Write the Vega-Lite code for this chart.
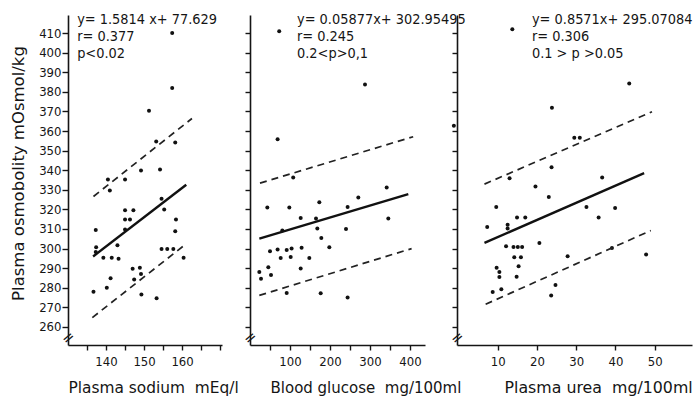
{
  "$schema": "https://vega.github.io/schema/vega-lite/v6.json",
  "background": "white",
  "padding": {"left": 10, "top": 11, "right": 0, "bottom": 0},
  "bounds": "flush",
  "spacing": 28,
  "config": {
    "view": {"stroke": null},
    "axis": {
      "grid": false,
      "domainColor": "#151515",
      "domainWidth": 1.6,
      "tickColor": "#151515",
      "tickWidth": 1.4,
      "labelFont": "DejaVu Sans Condensed, Liberation Sans Narrow, DejaVu Sans",
      "labelFontSize": 13,
      "labelColor": "#151515",
      "titleFont": "DejaVu Sans",
      "titleFontWeight": "normal",
      "titleColor": "#151515"
    },
    "text": {"font": "DejaVu Sans Condensed, Liberation Sans Narrow, DejaVu Sans", "fontSize": 14.4, "color": "#151515", "align": "left", "baseline": "middle"}
  },
  "datasets": {
    "sodium_pts": [
      {"x":157.4,"y":410},{"x":157.4,"y":382},{"x":151.3,"y":370.3},{"x":153.2,"y":354.6},{"x":158.2,"y":354.1},
      {"x":149.2,"y":339.8},{"x":154.2,"y":340.4},{"x":140.5,"y":335.3},{"x":145,"y":335.3},{"x":141,"y":329.7},
      {"x":145,"y":319.5},{"x":147.2,"y":319.5},{"x":145,"y":314.8},{"x":146.3,"y":314.8},{"x":145,"y":309.7},
      {"x":154.6,"y":325.4},{"x":155.3,"y":319.9},{"x":158.4,"y":314.8},{"x":158.2,"y":308.8},{"x":137.3,"y":309.5},
      {"x":137.4,"y":300.7},{"x":137.3,"y":298.3},{"x":139.3,"y":295.3},{"x":141.5,"y":295.3},{"x":143,"y":301.7},
      {"x":143.3,"y":294.8},{"x":154.6,"y":299.8},{"x":156.1,"y":299.8},{"x":157.7,"y":299.8},{"x":160.4,"y":295.3},
      {"x":147,"y":289.7},{"x":148.9,"y":290.2},{"x":147.4,"y":284.2},{"x":149.2,"y":287},{"x":141.2,"y":284.8},
      {"x":140.2,"y":280},{"x":136.7,"y":278},{"x":149.3,"y":276.6},{"x":153.3,"y":274.6}
    ],
    "sodium_lines": [
      {"kind":"fit","x":136.6,"y":296},{"kind":"fit","x":161.1,"y":332.6},
      {"kind":"upper","x":136.7,"y":326.6},{"kind":"upper","x":162.6,"y":366.4},
      {"kind":"lower","x":136.4,"y":264.8},{"kind":"lower","x":160.8,"y":302}
    ],
    "sodium_text": [
      {"x":132.4,"y":416.9,"label":"y= 1.5814 x+ 77.629"},
      {"x":132.4,"y":408,"label":"r= 0.377"},
      {"x":132.4,"y":399.3,"label":"p<0.02"}
    ],
    "sodium_break": [{"x":130,"y":254.6,"label":"="}],
    "glucose_pts": [
      {"x":73,"y":410.9},{"x":287.5,"y":383.7},{"x":69,"y":355.8},{"x":108,"y":336.3},{"x":341.7,"y":331.2},
      {"x":270.8,"y":326.1},{"x":43.3,"y":321},{"x":98.3,"y":321},{"x":173.3,"y":323.6},{"x":244,"y":321.2},
      {"x":126.7,"y":315.6},{"x":165,"y":315.3},{"x":345.8,"y":315.3},{"x":168.3,"y":310.2},{"x":240,"y":310},
      {"x":80.8,"y":309.2},{"x":178.3,"y":305.4},{"x":50,"y":298.7},{"x":69,"y":299.5},{"x":91.7,"y":299.3},
      {"x":104,"y":300},{"x":129,"y":300.4},{"x":198.3,"y":300.7},{"x":76.7,"y":295.2},{"x":101.7,"y":295.7},
      {"x":148.3,"y":295.2},{"x":45.8,"y":290.5},{"x":126.7,"y":289.9},{"x":23.3,"y":288},{"x":52.5,"y":286.5},
      {"x":27.5,"y":284.6},{"x":91.7,"y":277.3},{"x":176.7,"y":277.2},{"x":244,"y":275.1}
    ],
    "glucose_lines": [
      {"kind":"fit","x":23.3,"y":305.1},{"kind":"fit","x":395.8,"y":327.8},
      {"kind":"upper","x":25,"y":333.4},{"kind":"upper","x":408,"y":357.1},
      {"kind":"lower","x":23.3,"y":276.1},{"kind":"lower","x":404,"y":300}
    ],
    "glucose_text": [
      {"x":117.5,"y":416.9,"label":"y= 0.05877x+ 302.95495"},
      {"x":117.5,"y":408,"label":"r= 0.245"},
      {"x":117.5,"y":399.3,"label":"0.2<p>0,1"}
    ],
    "glucose_break": [{"x":0,"y":254.6,"label":"="}],
    "urea_pts": [
      {"x":13.7,"y":411.9},{"x":43.5,"y":384.2},{"x":23.8,"y":371.9},{"x":29.5,"y":356.6},{"x":30.9,"y":356.6},
      {"x":23.7,"y":341.5},{"x":13,"y":335.9},{"x":36.6,"y":336.3},{"x":19.6,"y":331.7},{"x":23,"y":326.3},
      {"x":9.6,"y":321.2},{"x":32.6,"y":321.2},{"x":39.9,"y":320.7},{"x":14.9,"y":315.9},{"x":17,"y":315.9},
      {"x":35.7,"y":315.9},{"x":7.3,"y":311},{"x":12.5,"y":312.2},{"x":12.5,"y":310.2},{"x":12.1,"y":301.2},
      {"x":14,"y":300.8},{"x":15.1,"y":300.8},{"x":16.2,"y":300.8},{"x":20.6,"y":302.9},{"x":14.2,"y":295.6},
      {"x":15.9,"y":295.6},{"x":27.8,"y":296.1},{"x":39.1,"y":300.3},{"x":47.8,"y":297},{"x":9.7,"y":290.2},
      {"x":10.4,"y":288.1},{"x":15.3,"y":291},{"x":10.4,"y":285.5},{"x":14.8,"y":285.6},{"x":8.7,"y":277.8},
      {"x":10.9,"y":279.2},{"x":24.7,"y":281.4},{"x":23.6,"y":276.1},{"x":-1.2,"y":362.7}
    ],
    "urea_lines": [
      {"kind":"fit","x":6.6,"y":302.9},{"kind":"fit","x":47.3,"y":338.5},
      {"kind":"upper","x":6.6,"y":332.9},{"kind":"upper","x":49.3,"y":369.8},
      {"kind":"lower","x":6.9,"y":271.6},{"kind":"lower","x":49,"y":309.2}
    ],
    "urea_text": [
      {"x":18.7,"y":416.9,"label":"y= 0.8571x+ 295.07084"},
      {"x":18.7,"y":408,"label":"r= 0.306"},
      {"x":18.7,"y":399.3,"label":"0.1 > p >0.05"}
    ],
    "urea_break": [{"x":-0.4,"y":254.6,"label":"="}]
  },
  "hconcat": [
    {
      "width": 154,
      "height": 330,
      "encoding": {
        "x": {"field": "x", "type": "quantitative",
          "scale": {"domain": [130, 170.5], "nice": false, "zero": false},
          "axis": {"values": [135,140,145,150,155,160,165,170], "labelExpr": "(datum.value==140||datum.value==150||datum.value==160) ? datum.label : ''",
            "tickSize": 5, "labelPadding": 5, "title": "Plasma sodium\u00a0 mEq/l", "titleFontSize": 15.4,
            "titleAnchor": null, "titleAlign": "left", "titleBaseline": "middle", "titleX": 0, "titleY": 42}},
        "y": {"field": "y", "type": "quantitative",
          "scale": {"domain": [250.8, 419.2], "nice": false, "zero": false},
          "axis": {"values": [260,270,280,290,300,310,320,330,340,350,360,370,380,390,400,410],
            "tickSize": 6, "labelPadding": 1, "title": "Plasma osmobolity mOsmol/kg", "titleFontSize": 16.5,
            "titleAnchor": null, "titleAlign": "center", "titleBaseline": "middle", "titleAngle": -90, "titleX": -50, "titleY": 158}}
      },
      "layer": [
        {"data": {"name": "sodium_pts"}, "mark": {"type": "point", "filled": true, "size": 16, "color": "#111", "opacity": 1}},
        {"data": {"name": "sodium_lines"}, "transform": [{"filter": "datum.kind == 'fit'"}], "mark": {"type": "line", "color": "#111", "strokeWidth": 2.4}, "encoding": {}},
        {"data": {"name": "sodium_lines"}, "transform": [{"filter": "datum.kind != 'fit'"}], "mark": {"type": "line", "color": "#222", "strokeWidth": 1.7, "strokeDash": [7, 5]}, "encoding": {"detail": {"field": "kind"}}},
        {"data": {"name": "sodium_text"}, "mark": {"type": "text"}, "encoding": {"text": {"field": "label"}}},
        {"data": {"name": "sodium_break"}, "mark": {"type": "text", "align": "center", "angle": -40, "fontSize": 15, "font": "DejaVu Sans"}, "encoding": {"text": {"field": "label"}}}
      ]
    },
    {
      "bounds": "flush",
      "spacing": 32,
      "hconcat": [
        {
          "width": 175,
          "height": 330,
          "encoding": {
            "x": {"field": "x", "type": "quantitative",
              "scale": {"domain": [0, 437.5], "nice": false, "zero": false},
              "axis": {"values": [50,100,150,200,250,300,350,400], "labelExpr": "(datum.value % 100 == 0) ? datum.label : ''",
                "tickSize": 5, "labelPadding": 5, "title": "Blood glucose\u00a0 mg/100ml", "titleFontSize": 15,
                "titleAnchor": null, "titleAlign": "left", "titleBaseline": "middle", "titleX": 20, "titleY": 42}},
            "y": {"field": "y", "type": "quantitative",
              "scale": {"domain": [250.8, 419.2], "nice": false, "zero": false},
              "axis": {"values": [260,270,280,290,300,310,320,330,340,350,360,370,380,390,400,410],
                "tickSize": 5, "labels": false, "title": null}}
          },
          "layer": [
            {"data": {"name": "glucose_pts"}, "mark": {"type": "point", "filled": true, "size": 16, "color": "#111", "opacity": 1}},
            {"data": {"name": "glucose_lines"}, "transform": [{"filter": "datum.kind == 'fit'"}], "mark": {"type": "line", "color": "#111", "strokeWidth": 2.4}, "encoding": {}},
            {"data": {"name": "glucose_lines"}, "transform": [{"filter": "datum.kind != 'fit'"}], "mark": {"type": "line", "color": "#222", "strokeWidth": 1.7, "strokeDash": [7, 5]}, "encoding": {"detail": {"field": "kind"}}},
            {"data": {"name": "glucose_text"}, "mark": {"type": "text"}, "encoding": {"text": {"field": "label"}}},
            {"data": {"name": "glucose_break"}, "mark": {"type": "text", "align": "center", "angle": -40, "fontSize": 15, "font": "DejaVu Sans"}, "encoding": {"text": {"field": "label"}}}
          ]
        },
        {
          "width": 235,
          "height": 330,
          "encoding": {
            "x": {"field": "x", "type": "quantitative",
              "scale": {"domain": [-0.4, 59.5], "nice": false, "zero": false},
              "axis": {"values": [10,20,30,40,50],
                "tickSize": 5, "labelPadding": 5, "title": "Plasma urea\u00a0 mg/100ml", "titleFontSize": 15.8,
                "titleAnchor": null, "titleAlign": "left", "titleBaseline": "middle", "titleX": 47, "titleY": 42}},
            "y": {"field": "y", "type": "quantitative",
              "scale": {"domain": [250.8, 419.2], "nice": false, "zero": false},
              "axis": {"values": [260,270,280,290,300,310,320,330,340,350,360,370,380,390,400,410],
                "tickSize": 5, "labels": false, "title": null}}
          },
          "layer": [
            {"data": {"name": "urea_pts"}, "mark": {"type": "point", "filled": true, "size": 16, "color": "#111", "opacity": 1}},
            {"data": {"name": "urea_lines"}, "transform": [{"filter": "datum.kind == 'fit'"}], "mark": {"type": "line", "color": "#111", "strokeWidth": 2.4}, "encoding": {}},
            {"data": {"name": "urea_lines"}, "transform": [{"filter": "datum.kind != 'fit'"}], "mark": {"type": "line", "color": "#222", "strokeWidth": 1.7, "strokeDash": [7, 5]}, "encoding": {"detail": {"field": "kind"}}},
            {"data": {"name": "urea_text"}, "mark": {"type": "text"}, "encoding": {"text": {"field": "label"}}},
            {"data": {"name": "urea_break"}, "mark": {"type": "text", "align": "center", "angle": -40, "fontSize": 15, "font": "DejaVu Sans"}, "encoding": {"text": {"field": "label"}}}
          ]
        }
      ]
    }
  ]
}
